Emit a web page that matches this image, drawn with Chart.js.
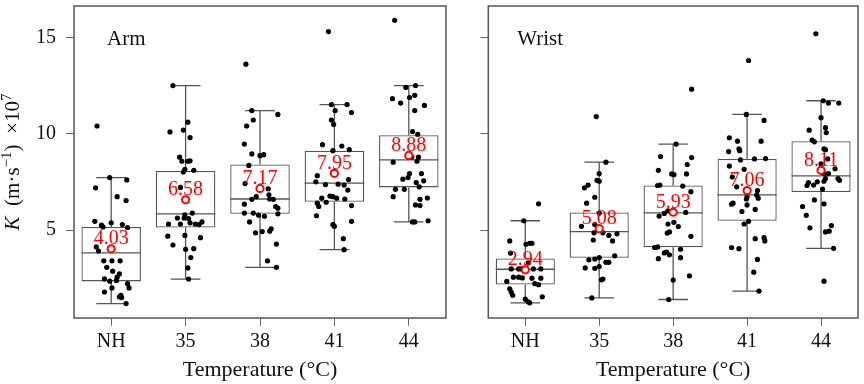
<!DOCTYPE html>
<html>
<head>
<meta charset="utf-8">
<script src="https://cdn.jsdelivr.net/npm/chart.js@4.4.2/dist/chart.umd.min.js"></script>
<style>
  html, body { margin: 0; padding: 0; background: #fff; }
  #armChart { position: absolute; left: 0; top: 0; }
  #wristChart { position: absolute; left: 452px; top: 0; }
</style>
</head>
<body>
<canvas id="armChart" width="452" height="384"></canvas>
<canvas id="wristChart" width="412" height="384"></canvas>
<script>
const categories = ['NH', '35', '38', '41', '44'];

// box statistics, arm
const armLow = [1.19, 2.46, 3.07, 3.99, 5.43];
const armQ1 = [2.34, 5.14, 5.85, 6.47, 7.22];
const armMedian = [3.82, 5.85, 6.62, 7.44, 8.65];
const armQ3 = [5.17, 8.07, 8.41, 9.13, 9.93];
const armHigh = [7.73, 12.51, 11.21, 11.52, 12.51];
const armMean = [4.03, 6.58, 7.17, 7.95, 8.88];

// box statistics, wrist
const wristLow = [1.23, 1.48, 1.40, 1.84, 4.06];
const wristQ1 = [2.18, 3.57, 4.11, 5.49, 6.98];
const wristMedian = [2.97, 4.93, 5.90, 6.83, 7.82];
const wristQ3 = [3.53, 5.92, 7.32, 8.70, 9.62];
const wristHigh = [5.49, 8.53, 9.47, 11.01, 11.72];
const wristMean = [2.94, 5.08, 5.93, 7.06, 8.11];

// raw points: [value, jitter in category units]
const armNH = [[10.41,-0.19],[7.73,-0.02],[7.61,0.21],[7.20,-0.21],[6.74,0.08],[6.54,0.20],[5.46,-0.22],[5.26,-0.13],[5.17,-0.11],[5.38,0.00],[5.29,0.15],[5.14,0.22],[4.13,-0.20],[3.92,-0.17],[3.41,-0.10],[3.41,0.01],[3.41,0.12],[3.07,-0.06],[2.87,0.02],[2.73,0.11],[2.47,-0.09],[2.56,0.08],[2.35,-0.02],[2.39,0.07],[2.22,0.22],[2.00,0.24],[2.00,0.01],[1.79,-0.09],[1.54,0.11],[1.50,0.14],[1.62,0.13],[1.19,0.20]];
const arm35 = [[12.51,-0.17],[10.61,0.03],[10.20,-0.03],[10.10,-0.21],[9.81,0.06],[8.79,-0.08],[8.58,-0.05],[8.58,0.03],[8.60,0.06],[8.16,-0.01],[8.02,-0.03],[8.11,0.11],[7.22,-0.07],[5.80,-0.01],[5.89,0.09],[5.63,-0.11],[5.32,-0.07],[5.63,-0.02],[5.60,0.04],[5.32,-0.23],[5.32,0.13],[5.29,0.18],[5.43,0.22],[5.38,0.06],[4.69,-0.24],[4.73,-0.01],[4.61,0.20],[4.23,-0.17],[4.01,0.00],[4.04,0.11],[3.58,0.07],[3.04,0.03],[2.46,0.04]];
const arm38 = [[13.62,-0.19],[11.21,-0.11],[11.01,0.24],[10.72,-0.09],[10.41,-0.18],[9.47,-0.21],[8.96,-0.11],[8.87,0.00],[8.92,0.05],[8.36,-0.15],[7.42,-0.20],[7.15,0.11],[6.84,0.12],[6.60,-0.11],[6.74,-0.05],[6.62,0.13],[6.60,0.18],[6.35,-0.21],[6.23,0.21],[6.14,0.24],[5.89,-0.21],[5.89,-0.09],[5.78,-0.02],[5.72,0.06],[5.85,0.24],[5.43,-0.14],[4.93,0.03],[4.86,-0.06],[4.95,0.13],[5.07,0.15],[4.28,0.22],[3.41,0.10],[3.07,0.22]];
const arm41 = [[15.31,-0.08],[11.52,-0.04],[11.52,0.17],[11.21,0.01],[11.11,0.23],[10.72,-0.04],[10.49,-0.01],[9.44,-0.16],[9.37,0.10],[9.13,-0.02],[9.18,0.20],[7.83,-0.23],[7.51,-0.25],[7.37,-0.12],[7.39,0.05],[7.34,0.13],[7.63,0.19],[7.08,0.18],[6.77,-0.06],[6.74,-0.02],[6.66,0.03],[6.66,-0.17],[6.62,0.14],[6.45,-0.11],[6.40,-0.23],[6.23,-0.21],[6.28,0.23],[5.75,-0.24],[5.46,0.23],[5.29,-0.02],[5.20,0.00],[4.56,0.12],[3.99,0.13]];
const arm44 = [[15.90,-0.19],[12.41,-0.04],[12.51,0.09],[11.83,-0.22],[11.60,-0.11],[11.89,0.01],[12.00,0.08],[11.48,0.21],[11.21,0.08],[10.12,0.05],[9.98,0.12],[8.87,0.00],[8.79,0.04],[8.79,0.13],[8.58,0.11],[8.53,-0.21],[7.94,0.01],[7.65,-0.08],[7.73,-0.01],[7.94,0.17],[7.56,0.20],[7.47,0.10],[7.25,0.14],[7.12,-0.18],[7.12,-0.06],[6.74,-0.21],[6.60,0.15],[6.67,0.25],[6.31,0.09],[6.28,0.15],[5.43,0.05],[5.43,0.08],[5.49,0.26]];

const wristNH = [[6.37,0.18],[5.49,-0.02],[4.44,-0.21],[4.27,0.01],[4.32,0.06],[4.32,0.09],[3.81,-0.20],[2.99,-0.19],[2.99,-0.09],[2.99,-0.05],[2.99,0.11],[2.99,0.21],[2.56,-0.16],[2.56,-0.09],[2.52,-0.04],[2.51,0.09],[2.51,0.21],[2.34,-0.25],[2.22,0.13],[2.17,0.18],[1.96,-0.21],[1.79,-0.19],[1.62,-0.17],[1.54,0.23],[1.42,0.00],[1.28,0.04],[1.23,0.06],[3.30,0.04]];
const wrist35 = [[10.90,-0.04],[8.53,0.09],[7.94,0.00],[7.59,-0.03],[7.54,0.00],[7.34,-0.15],[7.20,-0.20],[6.71,-0.06],[6.40,-0.17],[5.89,0.00],[5.20,-0.24],[5.29,-0.06],[4.86,-0.07],[4.49,-0.08],[4.86,0.05],[4.73,0.13],[4.81,0.24],[4.44,0.18],[3.46,-0.14],[3.50,-0.06],[3.58,0.00],[3.67,0.21],[3.33,0.09],[3.33,0.13],[3.04,-0.19],[3.02,-0.06],[3.11,0.00],[2.42,0.03],[2.46,0.05],[1.48,-0.10]];
const wrist38 = [[12.32,0.25],[9.47,0.04],[8.82,-0.17],[8.77,0.25],[8.11,-0.20],[8.41,0.19],[7.92,-0.02],[7.88,0.01],[7.92,0.18],[7.32,-0.21],[7.34,-0.18],[7.29,0.13],[7.00,0.24],[5.73,-0.19],[5.87,-0.12],[6.01,-0.07],[5.92,0.17],[5.41,0.01],[5.32,-0.07],[5.19,0.07],[4.85,-0.08],[4.91,-0.05],[4.68,0.24],[4.10,-0.25],[4.13,-0.21],[3.82,-0.12],[3.86,-0.09],[3.72,-0.05],[4.01,0.10],[3.52,-0.20],[3.57,0.10],[2.41,0.00],[2.63,0.22],[1.40,-0.06]];
const wrist41 = [[13.81,0.02],[11.01,-0.01],[10.70,0.23],[9.80,-0.24],[9.62,-0.13],[9.62,0.19],[9.08,-0.25],[9.22,-0.11],[9.13,-0.10],[8.65,-0.09],[8.70,0.10],[8.72,0.25],[8.33,-0.24],[7.76,-0.20],[8.16,-0.04],[7.25,-0.14],[7.06,0.14],[6.83,0.13],[6.74,0.00],[6.62,-0.01],[6.66,0.15],[6.35,-0.21],[6.40,-0.19],[6.31,0.00],[6.08,0.11],[5.97,-0.07],[5.32,-0.04],[5.46,0.02],[4.56,0.11],[4.61,0.23],[4.44,0.24],[4.10,-0.21],[4.04,-0.11],[3.48,0.14],[2.82,0.09],[1.84,0.16]];
const wrist44 = [[15.20,-0.07],[11.72,0.03],[11.60,0.10],[11.60,0.24],[10.84,0.00],[10.19,-0.16],[10.32,0.06],[10.07,0.07],[9.68,-0.12],[9.59,-0.09],[9.22,0.04],[9.18,0.06],[8.70,0.09],[8.45,0.00],[8.19,0.19],[7.94,0.04],[7.94,0.10],[7.47,-0.17],[7.34,-0.10],[7.51,-0.05],[7.54,0.04],[7.68,0.06],[7.68,0.23],[7.59,0.25],[7.32,-0.19],[7.13,0.02],[6.57,-0.09],[6.37,0.04],[6.23,-0.25],[5.77,-0.20],[5.12,-0.15],[5.24,0.14],[4.95,0.11],[4.91,0.06],[4.06,0.17],[2.35,0.04]];

const armPoints = [armNH, arm35, arm38, arm41, arm44];
const wristPoints = [wristNH, wrist35, wrist38, wrist41, wrist44];

const FONT = 'Liberation Serif';
const BOX_COLOR = '#555555';
const TEXT_COLOR = '#111111';
const Y_MIN = 0.44;
const Y_MAX = 16.64;

const boxExtras = {
  id: 'boxExtras',
  afterDatasetDraw(chart, args, opts) {
    if (args.meta.type !== 'bar') return;
    const ctx = chart.ctx;
    const y = chart.scales.y;
    ctx.save();
    ctx.strokeStyle = BOX_COLOR;
    ctx.lineWidth = 1.3;
    args.meta.data.forEach((bar, i) => {
      const half = bar.width / 2;
      const cap = bar.width / 4;
      const yLow = y.getPixelForValue(opts.low[i]);
      const yHigh = y.getPixelForValue(opts.high[i]);
      const yQ1 = y.getPixelForValue(opts.q1[i]);
      const yQ3 = y.getPixelForValue(opts.q3[i]);
      const yMed = y.getPixelForValue(opts.median[i]);
      ctx.beginPath();
      ctx.moveTo(bar.x, yQ3); ctx.lineTo(bar.x, yHigh);
      ctx.moveTo(bar.x - cap, yHigh); ctx.lineTo(bar.x + cap, yHigh);
      ctx.moveTo(bar.x, yQ1); ctx.lineTo(bar.x, yLow);
      ctx.moveTo(bar.x - cap, yLow); ctx.lineTo(bar.x + cap, yLow);
      ctx.moveTo(bar.x - half, yMed); ctx.lineTo(bar.x + half, yMed);
      ctx.stroke();
    });
    ctx.restore();
  },
  afterDatasetsDraw(chart, args, opts) {
    const ctx = chart.ctx;
    const {left, top, right, bottom} = chart.chartArea;
    const x = chart.scales.x;
    const y = chart.scales.y;
    ctx.save();
    // mean labels
    ctx.fillStyle = '#ff0000';
    ctx.font = '20px "' + FONT + '"';
    ctx.textAlign = 'center';
    ctx.textBaseline = 'alphabetic';
    opts.mean.forEach((m, i) => {
      ctx.fillText(m.toFixed(2), x.getPixelForValue(i), y.getPixelForValue(m) - 4.5);
    });
    // panel name
    ctx.fillStyle = TEXT_COLOR;
    ctx.textAlign = 'left';
    ctx.font = '21px "' + FONT + '"';
    ctx.fillText(opts.panel, left + opts.panelOffset, top + 39);
    // frame
    ctx.strokeStyle = BOX_COLOR;
    ctx.lineWidth = 1.5;
    ctx.strokeRect(left, top, right - left, bottom - top);
    ctx.restore();
  },
  afterDraw(chart, args, opts) {
    if (!opts.yTitle) return;
    const ctx = chart.ctx;
    const {top, bottom} = chart.chartArea;
    const parts = [
      {t: 'K', f: 'italic 21px "' + FONT + '"', dy: 0},
      {t: '  (m\u00b7s', f: '21px "' + FONT + '"', dy: 0},
      {t: '\u22121', f: '15px "' + FONT + '"', dy: -8},
      {t: ')  \u00d710', f: '21px "' + FONT + '"', dy: 0},
      {t: '7', f: '15px "' + FONT + '"', dy: -8}
    ];
    ctx.save();
    let total = 0;
    parts.forEach(p => { ctx.font = p.f; p.w = ctx.measureText(p.t).width; total += p.w; });
    ctx.translate(19, (top + bottom) / 2);
    ctx.rotate(-Math.PI / 2);
    ctx.fillStyle = TEXT_COLOR;
    ctx.textBaseline = 'alphabetic';
    ctx.textAlign = 'left';
    let cx = -total / 2;
    parts.forEach(p => { ctx.font = p.f; ctx.fillText(p.t, cx, p.dy); cx += p.w; });
    ctx.restore();
  }
};

function makeChart(canvasId, opts) {
  const datasets = [];
  datasets.push({
    type: 'scatter',
    label: 'mean',
    order: 0,
    data: opts.mean.map((m, i) => ({x: i, y: m})),
    pointRadius: 3.6,
    pointBorderWidth: 2,
    pointBorderColor: '#ff0000',
    pointBackgroundColor: '#ffffff'
  });
  datasets.push({
    type: 'scatter',
    label: 'points',
    order: 1,
    data: opts.points.flatMap((grp, i) => grp.map(p => ({x: i + p[1], y: p[0]}))),
    pointRadius: 2.6,
    pointBorderWidth: 0,
    pointBackgroundColor: '#000000'
  });
  datasets.push({
    type: 'bar',
    label: 'box',
    order: 2,
    data: opts.q1.map((q, i) => ({x: i, y: [q, opts.q3[i]]})),
    backgroundColor: '#ffffff',
    borderColor: BOX_COLOR,
    borderWidth: 1.3,
    borderSkipped: false,
    categoryPercentage: 1.0,
    barPercentage: 0.8
  });

  return new Chart(document.getElementById(canvasId), {
    type: 'scatter',
    data: { datasets: datasets },
    plugins: [boxExtras],
    options: {
      responsive: false,
      animation: false,
      events: [],
      layout: { padding: { left: 0, right: opts.padRight, top: 1.7, bottom: 0 } },
      plugins: {
        legend: { display: false },
        tooltip: { enabled: false },
        boxExtras: {
          low: opts.low, q1: opts.q1, median: opts.median, q3: opts.q3, high: opts.high,
          mean: opts.mean, panel: opts.panel, panelOffset: opts.panelOffset, yTitle: opts.yTitle
        }
      },
      scales: {
        x: {
          type: 'linear',
          min: -0.5,
          max: 4.5,
          offset: false,
          afterBuildTicks: scale => { scale.ticks = categories.map((c, i) => ({value: i})); },
          afterFit: scale => {
            scale.height = 66;
            scale.paddingLeft = 0;
            scale.paddingRight = 0;
          },
          grid: { display: true, drawOnChartArea: false, drawTicks: true, tickLength: 8, color: '#666666', offset: false },
          border: { display: false },
          ticks: {
            color: TEXT_COLOR,
            padding: 4,
            maxRotation: 0,
            font: { family: FONT, size: 20 },
            callback: (value, index) => categories[index]
          },
          title: {
            display: true,
            text: 'Temperature (\u00b0C)',
            color: TEXT_COLOR,
            font: { family: FONT, size: 22 },
            padding: { top: 0, bottom: 1 }
          }
        },
        y: {
          type: 'linear',
          min: Y_MIN,
          max: Y_MAX,
          afterBuildTicks: scale => { scale.ticks = [{value: 5}, {value: 10}, {value: 15}]; },
          afterFit: scale => {
            scale.width = opts.axisWidth;
            scale.paddingTop = 0;
            scale.paddingBottom = 0;
          },
          grid: { display: true, drawOnChartArea: false, drawTicks: true, tickLength: 8, color: '#666666' },
          border: { display: false },
          ticks: {
            display: opts.yLabels,
            color: TEXT_COLOR,
            padding: 10,
            font: { family: FONT, size: 20 }
          }
        }
      }
    }
  });
}

makeChart('armChart', {
  low: armLow, q1: armQ1, median: armMedian, q3: armQ3, high: armHigh, mean: armMean,
  points: armPoints, panel: 'Arm', panelOffset: 33, yTitle: true, yLabels: true, axisWidth: 74, padRight: 3.7
});

makeChart('wristChart', {
  low: wristLow, q1: wristQ1, median: wristMedian, q3: wristQ3, high: wristHigh, mean: wristMean,
  points: wristPoints, panel: 'Wrist', panelOffset: 29, yTitle: false, yLabels: false, axisWidth: 36.3, padRight: 1.7
});
</script>
</body>
</html>
